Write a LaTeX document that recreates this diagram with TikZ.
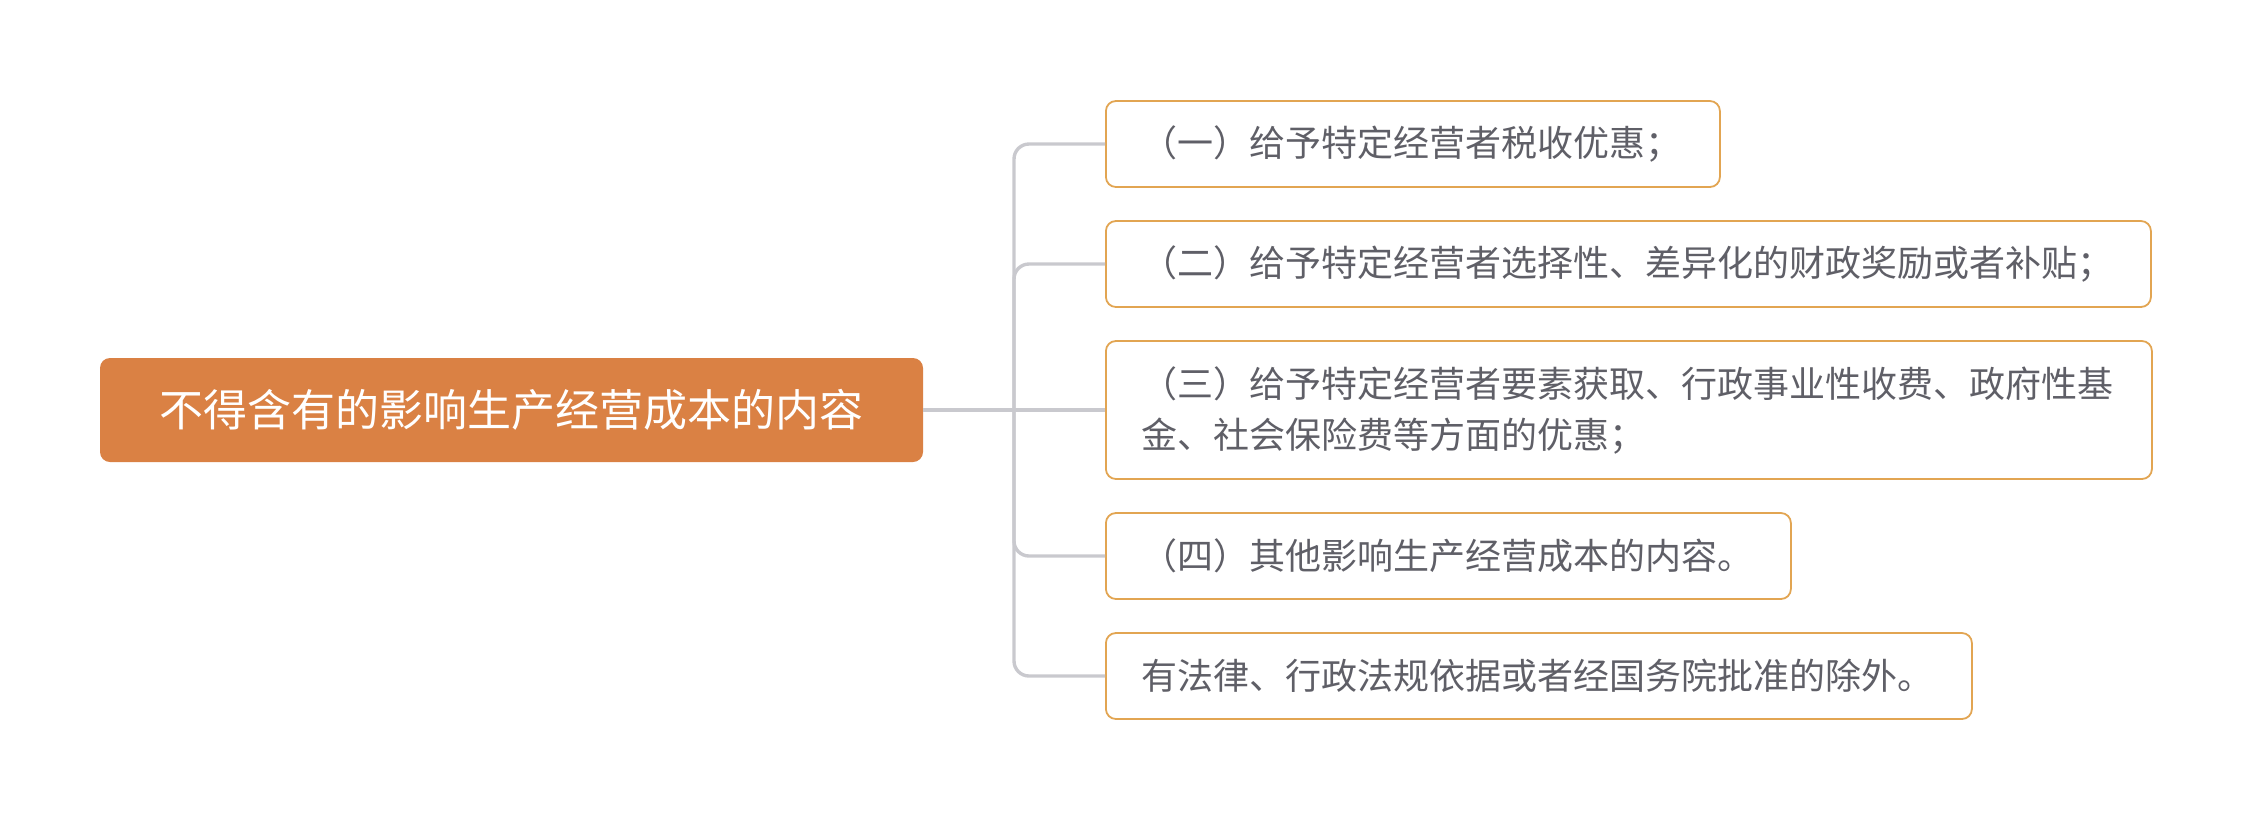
\documentclass[tikz,border=0pt]{standalone}
\usepackage{fontspec}
\newfontfamily\cjk{Noto Sans CJK SC}
\definecolor{rootfill}{HTML}{DA8144}
\definecolor{boxline}{HTML}{E2A552}
\definecolor{linegray}{HTML}{C9C9CE}
\definecolor{textgray}{HTML}{5F5F67}
\tikzset{
    rootbox/.style={fill=rootfill, text=white, rounded corners=5pt, minimum width=411.5pt, minimum height=52pt, font=\cjk\fontsize{22}{26}\selectfont},
    leafbox/.style={draw=boxline, line width=0.9pt, fill=white, text=textgray, rounded corners=5pt, anchor=west, inner xsep=18pt, align=left, minimum height=43pt, font=\cjk\fontsize{18}{25.5}\selectfont},
    conn/.style={draw=linegray, line width=1.7pt}
}
\begin{document}
\begin{tikzpicture}[x=0.5pt, y=-0.5pt]
                    \useasboundingbox (0, 0) rectangle (2252, 820);

                    \node[rootbox] (root) at (511.5, 410) {不得含有的影响生产经营成本的内容};
                    \coordinate (trunk) at (1014, 410);

                    \node[leafbox, text width=271pt] (c1) at (1105, 144) {（一）给予特定经营者税收优惠；};
                    \node[leafbox, text width=486.5pt] (c2) at (1105, 264) {（二）给予特定经营者选择性、差异化的财政奖励或者补贴；};
                    \node[leafbox, text width=487pt, minimum height=69pt] (c3) at (1105, 410) {（三）给予特定经营者要素获取、行政事业性收费、政府性基\\金、社会保险费等方面的优惠；};
                    \node[leafbox, text width=306.5pt] (c4) at (1105, 556) {（四）其他影响生产经营成本的内容。};
                    \node[leafbox, text width=397pt] (c5) at (1105, 676) {有法律、行政法规依据或者经国务院批准的除外。};

                    \begin{scope}[on background layer/.try]
                    \draw[conn] (root.east) -- (c3.west);
                    \foreach \leaf in {c1, c2, c4, c5}
                        \draw[conn, rounded corners=7.5pt] (trunk) |- (\leaf.west);
                    \end{scope}
                \end{tikzpicture}
\end{document}
